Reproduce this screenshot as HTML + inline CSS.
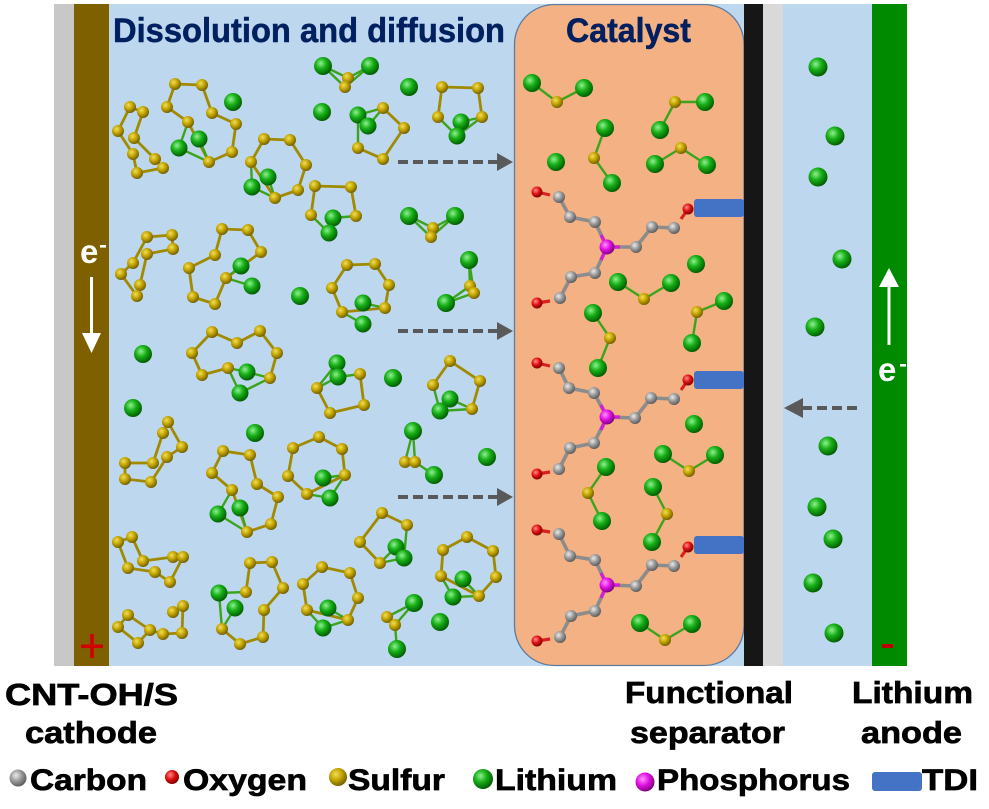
<!DOCTYPE html>
<html><head><meta charset="utf-8"><style>
html,body{margin:0;padding:0;background:#fff;}
svg{display:block;}
.s{fill:url(#gS);} .l{fill:url(#gL);} .c{fill:url(#gC);} .o{fill:url(#gO);} .p{fill:url(#gP);}
.sb{fill:none;stroke:#A08A00;stroke-width:2.8;stroke-linejoin:round;}
.lb{fill:none;stroke:#3CA41C;stroke-width:2.4;}
.cb{fill:none;stroke:#8C8C8C;stroke-width:3.6;stroke-linejoin:round;}
.ob{stroke:#D82020;stroke-width:3.2;}
.pb{stroke:#D020D0;stroke-width:3.4;}
text{font-family:"Liberation Sans",Arial,sans-serif;font-weight:bold;}
.bt{stroke:#000;stroke-width:0.7;}
.tt{stroke:#002060;stroke-width:0.5;}
</style></head><body>
<svg width="989" height="809" viewBox="0 0 989 809" xmlns="http://www.w3.org/2000/svg">
<defs>
<radialGradient id="gS" cx="0.38" cy="0.35" r="0.68"><stop offset="0" stop-color="#F2DE58"/><stop offset="0.5" stop-color="#C2A400"/><stop offset="1" stop-color="#6E5C00"/></radialGradient>
<radialGradient id="gL" cx="0.38" cy="0.35" r="0.68"><stop offset="0" stop-color="#90F090"/><stop offset="0.45" stop-color="#18B018"/><stop offset="1" stop-color="#005A00"/></radialGradient>
<radialGradient id="gC" cx="0.38" cy="0.35" r="0.68"><stop offset="0" stop-color="#EAEAEA"/><stop offset="0.5" stop-color="#9A9A9A"/><stop offset="1" stop-color="#585858"/></radialGradient>
<radialGradient id="gO" cx="0.38" cy="0.35" r="0.68"><stop offset="0" stop-color="#FF8A8A"/><stop offset="0.5" stop-color="#E01010"/><stop offset="1" stop-color="#7A0000"/></radialGradient>
<radialGradient id="gP" cx="0.38" cy="0.35" r="0.68"><stop offset="0" stop-color="#FF90FF"/><stop offset="0.5" stop-color="#E010E0"/><stop offset="1" stop-color="#7A007A"/></radialGradient>
</defs>
<rect width="989" height="809" fill="#fff"/>
<!-- panels -->
<rect x="54" y="4" width="20" height="662" fill="#C8C8C8"/>
<rect x="74" y="4" width="35" height="662" fill="#7F6000"/>
<rect x="109" y="4" width="635" height="662" fill="#BDD7EE"/>
<rect x="514.5" y="4.5" width="229.5" height="661" rx="40" ry="40" fill="#F4B183" stroke="#5A7CA2" stroke-width="1.3"/>
<rect x="744" y="4" width="19" height="662" fill="#161616"/>
<rect x="763" y="4" width="20" height="662" fill="#D9D9D9"/>
<rect x="783" y="4" width="89" height="662" fill="#BDD7EE"/>
<rect x="872" y="4" width="35" height="662" fill="#008A00"/>

<!-- titles -->
<text class="tt" x="113" y="42" font-size="34" fill="#002060" textLength="392" lengthAdjust="spacingAndGlyphs">Dissolution and diffusion</text>
<text class="tt" x="566" y="42" font-size="34" fill="#002060" textLength="125" lengthAdjust="spacingAndGlyphs">Catalyst</text>

<!-- electrodes -->
<text x="80" y="263" font-size="33" fill="#fff">e</text>
<rect x="100" y="245" width="6" height="2.6" fill="#fff"/>
<line x1="91.5" y1="277" x2="91.5" y2="336" stroke="#fff" stroke-width="3"/>
<polygon points="82,333 101,333 91.5,353" fill="#fff"/>
<rect x="81" y="644.5" width="22" height="3.6" fill="#D00000"/>
<rect x="90.2" y="634" width="3.6" height="24" fill="#D00000"/>

<polygon points="889,268 879,287 899,287" fill="#fff"/>
<line x1="889" y1="285" x2="889" y2="345" stroke="#fff" stroke-width="3"/>
<text x="878" y="381" font-size="33" fill="#fff">e</text>
<rect x="900" y="364" width="6" height="2.6" fill="#fff"/>
<rect x="882" y="644" width="11" height="4" fill="#C00000"/>

<!-- dashed arrows -->
<g stroke="#595959" stroke-width="4" stroke-dasharray="10,5">
<line x1="398" y1="162" x2="498" y2="162"/>
<line x1="398" y1="331" x2="498" y2="331"/>
<line x1="398" y1="497" x2="498" y2="497"/>
<line x1="857" y1="408" x2="802" y2="408"/>
</g>
<g fill="#595959">
<polygon points="497,153 513,162 497,171"/>
<polygon points="497,322 513,331 497,340"/>
<polygon points="497,488 513,497 497,506"/>
<polygon points="803,398 784,408 803,418"/>
</g>

<!-- ===== Left region polysulfides ===== -->
<g class="sb">
<polygon points="130,107 143,112 134,138 155,159 163,168 137,173 133,154 118,131"/>
<polygon points="175,84 202,85 212,113 236,124 232,152 209,162 188,122 167,107"/>
<polygon points="264,139 290,140 306,165 298,190 275,198 251,162"/>
<polyline points="348,78 345,87"/>
<polyline points="358,148 383,159 404,128 383,108"/>
<polyline points="438,117 442,87 478,88 482,117"/>
<polyline points="311,215 315,186 351,187 356,216"/>
<polyline points="433,228 431,237"/>
<polygon points="147,237 172,235 173,249 147,254 140,285 137,296 121,274 133,263"/>
<polygon points="222,229 248,230 261,252 226,278 215,304 193,297 189,268 215,255"/>
<polygon points="347,265 375,264 389,285 385,308 342,312 332,288"/>
<polyline points="470,286 474,293"/>
<polyline points="270,378 277,353 260,331 237,343 212,332 192,353 202,375 228,368"/>
<polyline points="317,388 330,413 364,405 360,374"/>
<polyline points="433,385 450,361 480,381 472,409"/>
<polygon points="163,433 168,422 182,447 167,457 151,482 125,479 125,463 153,463"/>
<polygon points="223,451 250,455 257,484 278,497 271,524 247,532 232,490 212,473"/>
<polygon points="319,437 342,449 345,475 307,494 288,476 293,448"/>
<polyline points="405,462 415,462"/>
<polyline points="407,525 382,513 360,542 380,563"/>
<polygon points="467,537 493,551 496,577 479,596 441,576 443,550"/>
<polygon points="118,542 132,537 143,561 173,557 183,557 170,582 155,572 128,568"/>
<polyline points="246,592 250,563 272,562 283,588 264,610 263,637 240,644 222,629"/>
<polygon points="322,567 350,573 358,598 348,620 307,610 303,584"/>
<polyline points="387,617 395,625"/>
<polyline points="173,612 183,606 182,633 163,634 150,630 138,643 118,627 128,615 150,630"/>
</g>
<g class="lb">
<polyline points="188,122 179,148 209,162"/><line x1="199" y1="139" x2="209" y2="162"/>
<polyline points="251,162 252,187 275,198"/><line x1="268" y1="177" x2="275" y2="198"/>
<polyline points="323,66 348,78 370,66"/><polyline points="323,66 345,87 370,66"/>
<polyline points="358,148 358,115 383,108"/><line x1="368" y1="126" x2="383" y2="108"/>
<polyline points="438,117 457,136 482,117"/><line x1="461" y1="122" x2="482" y2="117"/>
<line x1="311" y1="215" x2="329" y2="233"/><line x1="356" y1="216" x2="333" y2="218"/>
<polyline points="409,216 431,237"/><polyline points="409,216 433,228 455,216"/><line x1="431" y1="237" x2="455" y2="216"/>
<line x1="226" y1="278" x2="241" y2="266"/><line x1="252" y1="286" x2="226" y2="278"/>
<line x1="342" y1="312" x2="363" y2="324"/><line x1="385" y1="308" x2="363" y2="303"/>
<polyline points="469,260 470,286"/><polyline points="469,260 474,293 446,303 470,286"/>
<polyline points="228,368 240,393 270,378"/><polyline points="228,368 247,372 270,378"/>
<polyline points="317,388 337,363"/><polyline points="317,388 338,377 360,374"/>
<polyline points="433,385 440,411 472,409"/><line x1="450" y1="399" x2="472" y2="409"/>
<polyline points="232,490 218,514 247,532"/><line x1="240" y1="508" x2="247" y2="532"/>
<polyline points="307,494 330,498 345,475"/><line x1="323" y1="478" x2="345" y2="475"/>
<polyline points="405,462 413,431 415,462 434,475"/>
<line x1="407" y1="525" x2="404" y2="558"/><polyline points="380,563 396,547"/><line x1="380" y1="563" x2="404" y2="558"/>
<polyline points="441,576 453,597 479,596"/><line x1="463" y1="579" x2="479" y2="596"/>
<polyline points="246,592 219,593 222,629"/><line x1="235" y1="608" x2="222" y2="629"/>
<polyline points="307,610 323,628 348,620"/><line x1="328" y1="608" x2="348" y2="620"/>
<polyline points="387,617 414,603 395,625 397,649"/>
</g>
<g class="s">
<circle cx="130" cy="107" r="6"/><circle cx="143" cy="112" r="6"/><circle cx="134" cy="138" r="6"/><circle cx="155" cy="159" r="6"/><circle cx="163" cy="168" r="6"/><circle cx="137" cy="173" r="6"/><circle cx="133" cy="154" r="6"/><circle cx="118" cy="131" r="6"/>
<circle cx="175" cy="84" r="6"/><circle cx="202" cy="85" r="6"/><circle cx="212" cy="113" r="6"/><circle cx="236" cy="124" r="6"/><circle cx="232" cy="152" r="6"/><circle cx="209" cy="162" r="6"/><circle cx="188" cy="122" r="6"/><circle cx="167" cy="107" r="6"/>
<circle cx="264" cy="139" r="6"/><circle cx="290" cy="140" r="6"/><circle cx="306" cy="165" r="6"/><circle cx="298" cy="190" r="6"/><circle cx="275" cy="198" r="6"/><circle cx="251" cy="162" r="6"/>
<circle cx="348" cy="78" r="6"/><circle cx="345" cy="87" r="6"/>
<circle cx="383" cy="108" r="6"/><circle cx="404" cy="128" r="6"/><circle cx="383" cy="159" r="6"/><circle cx="358" cy="148" r="6"/>
<circle cx="442" cy="87" r="6"/><circle cx="478" cy="88" r="6"/><circle cx="482" cy="117" r="6"/><circle cx="438" cy="117" r="6"/>
<circle cx="315" cy="186" r="6"/><circle cx="351" cy="187" r="6"/><circle cx="356" cy="216" r="6"/><circle cx="311" cy="215" r="6"/>
<circle cx="433" cy="228" r="6"/><circle cx="431" cy="237" r="6"/>
<circle cx="147" cy="237" r="6"/><circle cx="172" cy="235" r="6"/><circle cx="173" cy="249" r="6"/><circle cx="147" cy="254" r="6"/><circle cx="140" cy="285" r="6"/><circle cx="137" cy="296" r="6"/><circle cx="121" cy="274" r="6"/><circle cx="133" cy="263" r="6"/>
<circle cx="222" cy="229" r="6"/><circle cx="248" cy="230" r="6"/><circle cx="261" cy="252" r="6"/><circle cx="226" cy="278" r="6"/><circle cx="215" cy="304" r="6"/><circle cx="193" cy="297" r="6"/><circle cx="189" cy="268" r="6"/><circle cx="215" cy="255" r="6"/>
<circle cx="347" cy="265" r="6"/><circle cx="375" cy="264" r="6"/><circle cx="389" cy="285" r="6"/><circle cx="385" cy="308" r="6"/><circle cx="342" cy="312" r="6"/><circle cx="332" cy="288" r="6"/>
<circle cx="470" cy="286" r="6"/><circle cx="474" cy="293" r="6"/>
<circle cx="212" cy="332" r="6"/><circle cx="237" cy="343" r="6"/><circle cx="260" cy="331" r="6"/><circle cx="277" cy="353" r="6"/><circle cx="270" cy="378" r="6"/><circle cx="228" cy="368" r="6"/><circle cx="202" cy="375" r="6"/><circle cx="192" cy="353" r="6"/>
<circle cx="317" cy="388" r="6"/><circle cx="330" cy="413" r="6"/><circle cx="364" cy="405" r="6"/><circle cx="360" cy="374" r="6"/>
<circle cx="450" cy="361" r="6"/><circle cx="480" cy="381" r="6"/><circle cx="472" cy="409" r="6"/><circle cx="433" cy="385" r="6"/>
<circle cx="168" cy="422" r="6"/><circle cx="163" cy="433" r="6"/><circle cx="182" cy="447" r="6"/><circle cx="167" cy="457" r="6"/><circle cx="151" cy="482" r="6"/><circle cx="125" cy="479" r="6"/><circle cx="125" cy="463" r="6"/><circle cx="153" cy="463" r="6"/>
<circle cx="223" cy="451" r="6"/><circle cx="250" cy="455" r="6"/><circle cx="257" cy="484" r="6"/><circle cx="278" cy="497" r="6"/><circle cx="271" cy="524" r="6"/><circle cx="247" cy="532" r="6"/><circle cx="232" cy="490" r="6"/><circle cx="212" cy="473" r="6"/>
<circle cx="319" cy="437" r="6"/><circle cx="342" cy="449" r="6"/><circle cx="345" cy="475" r="6"/><circle cx="307" cy="494" r="6"/><circle cx="288" cy="476" r="6"/><circle cx="293" cy="448" r="6"/>
<circle cx="405" cy="462" r="6"/><circle cx="415" cy="462" r="6"/>
<circle cx="382" cy="513" r="6"/><circle cx="407" cy="525" r="6"/><circle cx="380" cy="563" r="6"/><circle cx="360" cy="542" r="6"/>
<circle cx="467" cy="537" r="6"/><circle cx="493" cy="551" r="6"/><circle cx="443" cy="550" r="6"/><circle cx="496" cy="577" r="6"/><circle cx="441" cy="576" r="6"/><circle cx="479" cy="596" r="6"/>
<circle cx="118" cy="542" r="6"/><circle cx="132" cy="537" r="6"/><circle cx="143" cy="561" r="6"/><circle cx="173" cy="557" r="6"/><circle cx="183" cy="557" r="6"/><circle cx="128" cy="568" r="6"/><circle cx="155" cy="572" r="6"/><circle cx="170" cy="582" r="6"/>
<circle cx="250" cy="563" r="6"/><circle cx="272" cy="562" r="6"/><circle cx="283" cy="588" r="6"/><circle cx="246" cy="592" r="6"/><circle cx="264" cy="610" r="6"/><circle cx="222" cy="629" r="6"/><circle cx="263" cy="637" r="6"/><circle cx="240" cy="644" r="6"/>
<circle cx="322" cy="567" r="6"/><circle cx="350" cy="573" r="6"/><circle cx="303" cy="584" r="6"/><circle cx="358" cy="598" r="6"/><circle cx="307" cy="610" r="6"/><circle cx="348" cy="620" r="6"/>
<circle cx="387" cy="617" r="6"/><circle cx="395" cy="625" r="6"/>
<circle cx="128" cy="615" r="6"/><circle cx="118" cy="627" r="6"/><circle cx="138" cy="643" r="6"/><circle cx="150" cy="630" r="6"/><circle cx="163" cy="634" r="6"/><circle cx="182" cy="633" r="6"/><circle cx="183" cy="606" r="6"/><circle cx="173" cy="612" r="6"/>
</g>
<g class="l">
<circle cx="179" cy="148" r="8.5"/><circle cx="199" cy="139" r="8.5"/><circle cx="233" cy="102" r="9"/>
<circle cx="268" cy="177" r="8.5"/><circle cx="252" cy="187" r="8.5"/>
<circle cx="323" cy="66" r="9"/><circle cx="370" cy="66" r="9"/><circle cx="322" cy="112" r="9"/>
<circle cx="358" cy="115" r="8.5"/><circle cx="368" cy="126" r="8.5"/><circle cx="409" cy="87" r="9"/>
<circle cx="461" cy="122" r="8.5"/><circle cx="457" cy="136" r="8.5"/>
<circle cx="333" cy="218" r="8.5"/><circle cx="329" cy="233" r="8.5"/>
<circle cx="409" cy="216" r="9"/><circle cx="455" cy="216" r="9"/>
<circle cx="241" cy="266" r="8.5"/><circle cx="252" cy="286" r="8.5"/><circle cx="300" cy="296" r="9"/>
<circle cx="363" cy="303" r="8.5"/><circle cx="363" cy="324" r="8.5"/>
<circle cx="469" cy="260" r="9"/><circle cx="446" cy="303" r="9"/>
<circle cx="143" cy="354" r="9"/><circle cx="133" cy="408" r="9"/><circle cx="255" cy="433" r="9"/><circle cx="393" cy="378" r="9"/><circle cx="487" cy="457" r="9"/><circle cx="440" cy="622" r="9"/>
<circle cx="247" cy="372" r="8.5"/><circle cx="240" cy="393" r="8.5"/>
<circle cx="337" cy="363" r="8.5"/><circle cx="338" cy="377" r="8.5"/>
<circle cx="450" cy="399" r="8.5"/><circle cx="440" cy="411" r="8.5"/>
<circle cx="240" cy="508" r="8.5"/><circle cx="218" cy="514" r="8.5"/>
<circle cx="323" cy="478" r="8.5"/><circle cx="330" cy="498" r="8.5"/>
<circle cx="413" cy="431" r="9"/><circle cx="434" cy="475" r="9"/>
<circle cx="396" cy="547" r="8.5"/><circle cx="404" cy="558" r="8.5"/>
<circle cx="463" cy="579" r="8.5"/><circle cx="453" cy="597" r="8.5"/>
<circle cx="219" cy="593" r="8.5"/><circle cx="235" cy="608" r="8.5"/>
<circle cx="328" cy="608" r="8.5"/><circle cx="323" cy="628" r="8.5"/>
<circle cx="414" cy="603" r="9"/><circle cx="397" cy="649" r="9"/>
</g>

<!-- ===== Catalyst region ===== -->
<g class="lb" stroke="#8E9A10">
<polyline points="532,83 557,102 584,88"/>
<polyline points="605,128 594,158 612,183"/>
<polyline points="660,130 675,102 705,102"/>
<polyline points="655,164 681,148 707,165"/>
<polyline points="618,282 644,299 671,283"/>
<polyline points="593,313 610,338 598,368"/>
<polyline points="724,301 697,312 692,343"/>
<polyline points="663,454 689,471 715,455"/>
<polyline points="606,467 588,493 602,521"/>
<polyline points="653,487 667,514 652,542"/>
<polyline points="640,623 665,640 692,624"/>
</g>
<g>
<rect x="694" y="199" width="50" height="18" rx="3" fill="#4472C4"/>
<rect x="694" y="371" width="50" height="18" rx="3" fill="#4472C4"/>
<rect x="694" y="536" width="50" height="18" rx="3" fill="#4472C4"/>
</g>
<g class="cb">
<polyline points="559,197 570,217 595,222 607,247 636,247 652,227 674,228"/>
<polyline points="607,247 595,273 571,277 560,298"/>
<polyline points="559,368 569,388 594,393 607,417 635,418 651,398 674,399"/>
<polyline points="607,417 594,443 570,448 559,469"/>
<polyline points="559,534 570,556 595,560 607,585 636,586 652,565 674,566"/>
<polyline points="607,585 595,611 571,616 560,637"/>
</g>
<g class="ob">
<line x1="537" y1="192" x2="550" y2="195"/><line x1="537" y1="303" x2="550" y2="301"/><line x1="688" y1="209" x2="681" y2="219"/>
<line x1="537" y1="363" x2="550" y2="366"/><line x1="537" y1="474" x2="550" y2="472"/><line x1="688" y1="380" x2="681" y2="390"/>
<line x1="537" y1="530" x2="550" y2="532"/><line x1="537" y1="641" x2="550" y2="639"/><line x1="688" y1="547" x2="681" y2="557"/>
</g>
<g class="pb">
<line x1="607" y1="247" x2="601" y2="235"/><line x1="607" y1="247" x2="620" y2="247"/><line x1="607" y1="247" x2="601" y2="260"/>
<line x1="607" y1="417" x2="601" y2="405"/><line x1="607" y1="417" x2="620" y2="417"/><line x1="607" y1="417" x2="601" y2="430"/>
<line x1="607" y1="585" x2="601" y2="573"/><line x1="607" y1="585" x2="620" y2="585"/><line x1="607" y1="585" x2="601" y2="598"/>
</g>
<g class="c">
<circle cx="559" cy="197" r="6"/><circle cx="570" cy="217" r="6"/><circle cx="595" cy="222" r="6"/><circle cx="636" cy="247" r="6"/><circle cx="652" cy="227" r="6"/><circle cx="674" cy="228" r="6"/><circle cx="595" cy="273" r="6"/><circle cx="571" cy="277" r="6"/><circle cx="560" cy="298" r="6"/>
<circle cx="559" cy="368" r="6"/><circle cx="569" cy="388" r="6"/><circle cx="594" cy="393" r="6"/><circle cx="635" cy="418" r="6"/><circle cx="651" cy="398" r="6"/><circle cx="674" cy="399" r="6"/><circle cx="594" cy="443" r="6"/><circle cx="570" cy="448" r="6"/><circle cx="559" cy="469" r="6"/>
<circle cx="559" cy="534" r="6"/><circle cx="570" cy="556" r="6"/><circle cx="595" cy="560" r="6"/><circle cx="636" cy="586" r="6"/><circle cx="652" cy="565" r="6"/><circle cx="674" cy="566" r="6"/><circle cx="595" cy="611" r="6"/><circle cx="571" cy="616" r="6"/><circle cx="560" cy="637" r="6"/>
</g>
<g class="o">
<circle cx="537" cy="192" r="5.5"/><circle cx="537" cy="303" r="5.5"/><circle cx="688" cy="209" r="5.5"/>
<circle cx="537" cy="363" r="5.5"/><circle cx="537" cy="474" r="5.5"/><circle cx="688" cy="380" r="5.5"/>
<circle cx="537" cy="530" r="5.5"/><circle cx="537" cy="641" r="5.5"/><circle cx="688" cy="547" r="5.5"/>
</g>
<g class="p">
<circle cx="607" cy="247" r="7.5"/><circle cx="607" cy="417" r="7.5"/><circle cx="607" cy="585" r="7.5"/>
</g>
<g class="s">
<circle cx="557" cy="102" r="6"/><circle cx="594" cy="158" r="6"/><circle cx="675" cy="102" r="6"/><circle cx="681" cy="148" r="6"/>
<circle cx="644" cy="299" r="6"/><circle cx="610" cy="338" r="6"/><circle cx="697" cy="312" r="6"/>
<circle cx="689" cy="471" r="6"/><circle cx="588" cy="493" r="6"/><circle cx="667" cy="514" r="6"/><circle cx="665" cy="640" r="6"/>
</g>
<g class="l">
<circle cx="532" cy="83" r="9"/><circle cx="584" cy="88" r="9"/><circle cx="605" cy="128" r="9"/><circle cx="612" cy="183" r="9"/><circle cx="556" cy="162" r="9"/>
<circle cx="705" cy="102" r="9"/><circle cx="660" cy="130" r="9"/><circle cx="655" cy="164" r="9"/><circle cx="707" cy="165" r="9"/>
<circle cx="696" cy="264" r="9"/><circle cx="618" cy="282" r="9"/><circle cx="671" cy="283" r="9"/><circle cx="593" cy="313" r="9"/><circle cx="598" cy="368" r="9"/><circle cx="724" cy="301" r="9"/><circle cx="692" cy="343" r="9"/>
<circle cx="694" cy="424" r="9"/><circle cx="663" cy="454" r="9"/><circle cx="715" cy="455" r="9"/><circle cx="606" cy="467" r="9"/><circle cx="602" cy="521" r="9"/><circle cx="653" cy="487" r="9"/><circle cx="652" cy="542" r="9"/>
<circle cx="640" cy="623" r="9"/><circle cx="692" cy="624" r="9"/>
</g>

<g class="l">
<circle cx="818" cy="67" r="9.5"/><circle cx="835" cy="136" r="9.5"/><circle cx="818" cy="177" r="9.5"/><circle cx="842" cy="259" r="9.5"/><circle cx="815" cy="327" r="9.5"/>
<circle cx="828" cy="446" r="9.5"/><circle cx="817" cy="507" r="9.5"/><circle cx="833" cy="539" r="9.5"/><circle cx="813" cy="583" r="9.5"/><circle cx="834" cy="633" r="9.5"/>
</g>

<!-- bottom labels -->
<g font-size="31" fill="#000" class="bt">
<text x="5" y="705" textLength="173" lengthAdjust="spacingAndGlyphs">CNT-OH/S</text>
<text x="25" y="743" textLength="132" lengthAdjust="spacingAndGlyphs">cathode</text>
<text x="625" y="703" textLength="168" lengthAdjust="spacingAndGlyphs">Functional</text>
<text x="630" y="743" textLength="155" lengthAdjust="spacingAndGlyphs">separator</text>
<text x="852" y="703" textLength="121" lengthAdjust="spacingAndGlyphs">Lithium</text>
<text x="861" y="743" textLength="101" lengthAdjust="spacingAndGlyphs">anode</text>
</g>
<!-- legend -->
<circle cx="18" cy="778" r="8.5" class="c"/>
<circle cx="172" cy="777" r="7" class="o"/>
<circle cx="338" cy="777" r="9" class="s"/>
<circle cx="483" cy="779" r="10" class="l"/>
<circle cx="645" cy="782" r="9.5" class="p"/>
<rect x="872" y="772" width="50" height="19" rx="3" fill="#4472C4"/>
<g font-size="30" fill="#000" class="bt">
<text x="30" y="790" textLength="117" lengthAdjust="spacingAndGlyphs">Carbon</text>
<text x="183" y="790" textLength="124" lengthAdjust="spacingAndGlyphs">Oxygen</text>
<text x="348" y="790" textLength="97" lengthAdjust="spacingAndGlyphs">Sulfur</text>
<text x="495" y="790" textLength="122" lengthAdjust="spacingAndGlyphs">Lithium</text>
<text x="657" y="790" textLength="193" lengthAdjust="spacingAndGlyphs">Phosphorus</text>
<text x="922" y="790" textLength="56" lengthAdjust="spacingAndGlyphs">TDI</text>
</g>
</svg>
</body></html>
